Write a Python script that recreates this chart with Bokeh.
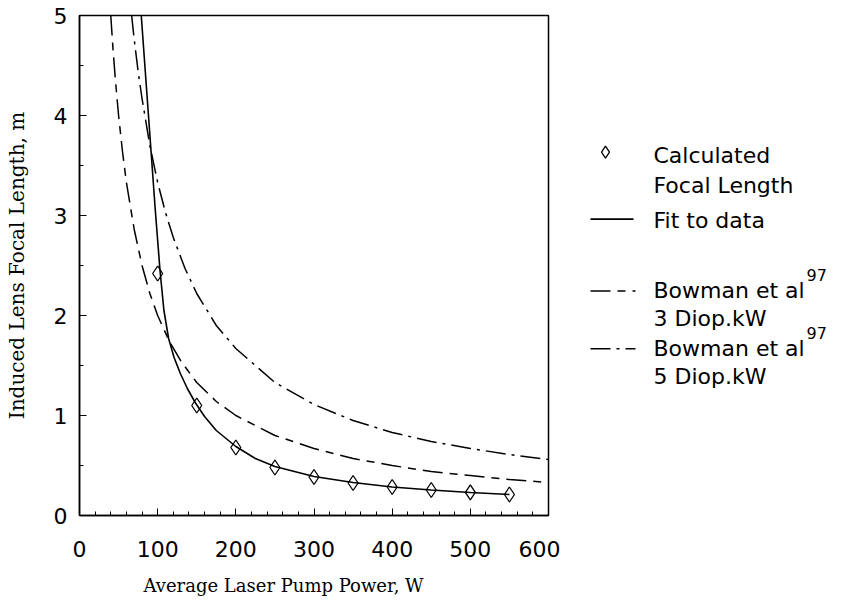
from bokeh.plotting import figure
from bokeh.layouts import row
from bokeh.models import Range1d, SingleIntervalTicker, Title
from bokeh.core.properties import value
from bokeh.embed import file_html
from bokeh.resources import INLINE

# ---- data ----
calc_power = [100, 150, 200, 250, 300, 350, 400, 450, 500, 550]
calc_focal = [2.42, 1.10, 0.68, 0.48, 0.385, 0.325, 0.285, 0.255, 0.232, 0.21]

fit_power = [79, 85, 91, 97, 103, 108, 114, 121, 129, 138, 148, 160, 175, 200,
             225, 250, 300, 350, 400, 450, 500, 550]
fit_focal = [5.0, 4.35, 3.7, 3.05, 2.45, 2.05, 1.77, 1.58, 1.42, 1.27, 1.13, 0.99,
             0.85, 0.69, 0.57, 0.49, 0.39, 0.33, 0.285, 0.255, 0.23, 0.21]

# upper dash-dot curve
upper_power = [66.7, 70, 75, 80, 90, 100, 110, 120, 135, 150, 175, 200, 250, 300,
               350, 400, 450, 500, 550, 600]
upper_focal = [5.0, 4.76, 4.44, 4.17, 3.70, 3.33, 3.03, 2.78, 2.47, 2.22, 1.90,
               1.67, 1.33, 1.11, 0.95, 0.83, 0.74, 0.67, 0.61, 0.56]

# lower long-short dashed curve
lower_power = [40, 43, 46, 50, 55, 60, 70, 80, 90, 100, 115, 130, 150, 175, 200,
               250, 300, 350, 400, 450, 500, 550, 600]
lower_focal = [5.0, 4.65, 4.35, 4.0, 3.64, 3.33, 2.86, 2.5, 2.22, 2.0, 1.74, 1.54,
               1.33, 1.14, 1.0, 0.8, 0.67, 0.57, 0.5, 0.44, 0.4, 0.36, 0.33]

x_ticks_interval = 100
y_ticks_interval = 1

legend_labels = ["Calculated", "Focal Length", "Fit to data",
                 "Bowman et al", "3 Diop.kW", "Bowman et al", "5 Diop.kW"]

UPPER_DASH = "20 6 3 6"
LOWER_DASH = "20 7 8 7"

SANS = "DejaVu Sans"
SERIF = "DejaVu Serif"

H = 608
p = figure(width=560, height=H, x_range=Range1d(0, 600), y_range=Range1d(0, 5),
           output_backend="svg", toolbar_location=None,
           min_border_left=79, min_border_right=12, min_border_top=15,
           min_border_bottom=92)
p.background_fill_color = "white"
p.border_fill_color = "white"
p.outline_line_color = "black"
p.outline_line_width = 1.5
p.grid.visible = False

p.xaxis.ticker = SingleIntervalTicker(interval=x_ticks_interval, num_minor_ticks=5)
p.yaxis.ticker = SingleIntervalTicker(interval=y_ticks_interval, num_minor_ticks=2)
for ax in (p.xaxis[0], p.yaxis[0]):
    ax.axis_line_color = "black"
    ax.axis_line_width = 1.5
    ax.major_tick_in = 7
    ax.major_tick_out = 0
    ax.minor_tick_in = 4
    ax.minor_tick_out = 0
    ax.major_tick_line_color = "black"
    ax.minor_tick_line_color = "black"
    ax.major_label_text_font = SANS
    ax.major_label_text_font_size = "22px"
    ax.major_label_text_color = "black"
p.xaxis.major_label_standoff = 25
p.yaxis.major_label_standoff = 12

p.yaxis.axis_label = "Induced Lens Focal Length, m"
p.yaxis.axis_label_text_font = SERIF
p.yaxis.axis_label_text_font_size = "20px"
p.yaxis.axis_label_text_font_style = "normal"
p.yaxis.axis_label_text_color = "black"
p.yaxis.axis_label_standoff = 22

xtitle = Title(text="Average Laser Pump Power, W", align="left", offset=64,
               standoff=26, text_font=SERIF, text_font_size="18px",
               text_font_style="normal", text_color="black")
p.add_layout(xtitle, "below")

p.line(upper_power, upper_focal, line_color="black", line_width=1.5,
       line_dash=UPPER_DASH)
p.line(lower_power, lower_focal, line_color="black", line_width=1.5,
       line_dash=LOWER_DASH)
p.line(fit_power, fit_focal, line_color="black", line_width=1.6)
p.scatter(calc_power, calc_focal, marker="diamond", size=15, fill_color=None,
          line_color="black", line_width=1.3)

# ---- legend panel (its frame is aligned with the plot frame) ----
W2 = 293
lg = figure(width=W2, height=H, x_range=Range1d(560, 853), y_range=Range1d(516, 15),
            output_backend="svg", toolbar_location=None, x_axis_type=None,
            y_axis_type=None, min_border=0)
lg.outline_line_color = None
lg.grid.visible = False

TX = 653
lg.scatter([605], [152], marker="diamond", size=12, fill_color=None,
           line_color="black", line_width=1.3)
lg.line([590, 633], [219, 219], line_color="black", line_width=1.6)
lg.line([590, 635], [291, 291], line_color="black", line_width=1.5,
        line_dash=LOWER_DASH)
lg.line([590, 635], [349, 349], line_color="black", line_width=1.5,
        line_dash=UPPER_DASH)

lg.text(x=[TX] * 7, y=[155, 185, 220, 291, 319, 349, 377], text=legend_labels,
        text_font=value(SANS), text_font_size="22px", text_baseline="middle",
        text_color="black")
lg.text(x=[TX + 153, TX + 153], y=[275, 333], text=["97", "97"],
        text_font=value(SANS), text_font_size="16px", text_baseline="middle",
        text_color="black")

layout = row(p, lg)
open("out.html", "w").write(file_html(layout, INLINE))
